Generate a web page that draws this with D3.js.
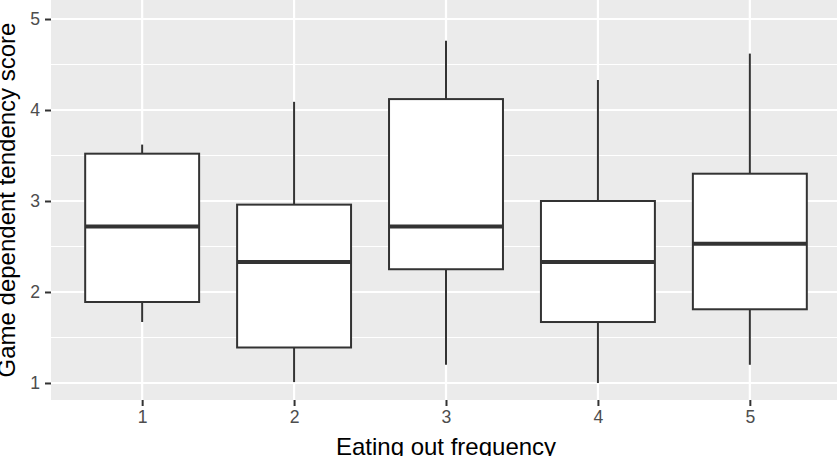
<!DOCTYPE html>
<html>
<head>
<meta charset="utf-8">
<script src="https://cdn.jsdelivr.net/npm/d3@7"></script>
<style>
  body { margin: 0; background: #fff; }
  text { font-family: "Liberation Sans", Arial, Helvetica, sans-serif; }
</style>
</head>
<body>
<div id="chart"></div>
<script>
// categories on x, five-number summaries
const categories = ["1", "2", "3", "4", "5"];
const whiskerLow  = [1.67, 1.01, 1.20, 1.00, 1.20];
const q1          = [1.89, 1.39, 2.25, 1.67, 1.81];
const medians     = [2.72, 2.33, 2.72, 2.33, 2.53];
const q3          = [3.52, 2.96, 4.12, 3.00, 3.30];
const whiskerHigh = [3.62, 4.09, 4.76, 4.33, 4.62];

const yTicks = [1, 2, 3, 4, 5];
const yMinor = [1.5, 2.5, 3.5, 4.5];
const yLimits = [0.813, 5.209];

const xTitle = "Eating out frequency";
const yTitle = "Game dependent tendency score";

const boxes = categories.map((c, i) => ({
    cat: c,
    lo: whiskerLow[i],
    q1: q1[i],
    med: medians[i],
    q3: q3[i],
    hi: whiskerHigh[i]
}));

function init() {
    const W = 837, H = 456;
    const margin = { top: 0, right: -4, bottom: 56, left: 51 },
          width = W - margin.left - margin.right,
          height = H - margin.top - margin.bottom;

    const svg = d3.select("#chart")
        .append("svg")
        .attr("width", W)
        .attr("height", H)
        .style("display", "block");

    const g = svg.append("g")
        .attr("transform", `translate(${margin.left},${margin.top})`);

    const x = d3.scalePoint()
        .domain(categories)
        .range([0, width])
        .padding(0.6);

    const y = d3.scaleLinear()
        .domain(yLimits)
        .range([height, 0]);

    const boxW = x.step() * 0.75;

    // panel background
    g.append("rect")
        .attr("width", width)
        .attr("height", height)
        .attr("fill", "#EBEBEB");

    // minor grid
    g.selectAll("line.minor")
        .data(yMinor)
        .join("line")
        .attr("class", "minor")
        .attr("x1", 0).attr("x2", width)
        .attr("y1", d => y(d)).attr("y2", d => y(d))
        .attr("stroke", "#fff")
        .attr("stroke-width", 1.1);

    // major grid
    g.selectAll("line.majorY")
        .data(yTicks)
        .join("line")
        .attr("class", "majorY")
        .attr("x1", 0).attr("x2", width)
        .attr("y1", d => y(d)).attr("y2", d => y(d))
        .attr("stroke", "#fff")
        .attr("stroke-width", 2.2);

    g.selectAll("line.majorX")
        .data(categories)
        .join("line")
        .attr("class", "majorX")
        .attr("x1", d => x(d)).attr("x2", d => x(d))
        .attr("y1", 0).attr("y2", height)
        .attr("stroke", "#fff")
        .attr("stroke-width", 2.2);

    // whiskers
    g.selectAll("line.wHigh")
        .data(boxes)
        .join("line")
        .attr("class", "wHigh")
        .attr("x1", d => x(d.cat)).attr("x2", d => x(d.cat))
        .attr("y1", d => y(d.q3)).attr("y2", d => y(d.hi))
        .attr("stroke", "#333333")
        .attr("stroke-width", 2);

    g.selectAll("line.wLow")
        .data(boxes)
        .join("line")
        .attr("class", "wLow")
        .attr("x1", d => x(d.cat)).attr("x2", d => x(d.cat))
        .attr("y1", d => y(d.q1)).attr("y2", d => y(d.lo))
        .attr("stroke", "#333333")
        .attr("stroke-width", 2);

    // boxes
    g.selectAll("rect.box")
        .data(boxes)
        .join("rect")
        .attr("class", "box")
        .attr("x", d => x(d.cat) - boxW / 2)
        .attr("y", d => y(d.q3))
        .attr("width", boxW)
        .attr("height", d => y(d.q1) - y(d.q3))
        .attr("fill", "#fff")
        .attr("stroke", "#333333")
        .attr("stroke-width", 2);

    // medians
    g.selectAll("line.median")
        .data(boxes)
        .join("line")
        .attr("class", "median")
        .attr("x1", d => x(d.cat) - boxW / 2).attr("x2", d => x(d.cat) + boxW / 2)
        .attr("y1", d => y(d.med)).attr("y2", d => y(d.med))
        .attr("stroke", "#333333")
        .attr("stroke-width", 4);

    // axes
    const xAxis = g.append("g")
        .attr("transform", `translate(0,${height})`)
        .call(d3.axisBottom(x).tickSize(6).tickPadding(5));
    const yAxis = g.append("g")
        .call(d3.axisLeft(y).tickValues(yTicks).tickFormat(d3.format("d")).tickSize(6).tickPadding(5));

    [xAxis, yAxis].forEach(a => {
        a.select(".domain").remove();
        a.selectAll(".tick line").attr("stroke", "#333333").attr("stroke-width", 2);
        a.selectAll(".tick text")
            .attr("fill", "#4D4D4D")
            .style("font-size", "17.6px")
            .style("font-family", "'Liberation Sans', Arial, Helvetica, sans-serif");
    });

    // axis titles
    svg.append("text")
        .attr("x", margin.left + x(categories[2]))
        .attr("y", 455)
        .attr("text-anchor", "middle")
        .style("font-size", "24px")
        .attr("fill", "#000")
        .text(xTitle);

    svg.append("text")
        .attr("transform", `translate(15,${margin.top + height / 2}) rotate(-90)`)
        .attr("text-anchor", "middle")
        .style("font-size", "24px")
        .attr("fill", "#000")
        .text(yTitle);
}

init();
</script>
</body>
</html>
